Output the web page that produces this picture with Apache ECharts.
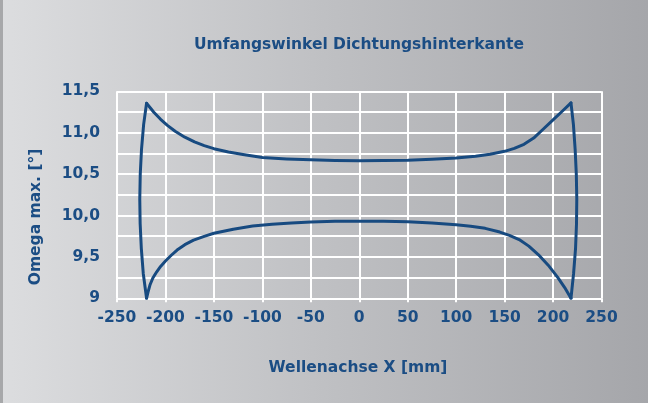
<!DOCTYPE html>
<html>
<head>
<meta charset="utf-8">
<script src="https://cdn.jsdelivr.net/npm/echarts@6/dist/echarts.min.js"></script>
<style>
html,body{margin:0;padding:0;}
#chart{width:648px;height:403px;}
</style>
</head>
<body>
<div id="chart"></div>
<script>
var titleText = 'Umfangswinkel Dichtungshinterkante';
var xName = 'Wellenachse X [mm]';
var yName = 'Omega max. [°]';

var upperX = [-219.5, -212, -205, -198, -190, -180, -170, -160, -150, -135, -120, -100, -75, -50, -25, 0, 25, 50, 75, 100, 120, 135, 150, 160, 170, 180, 190, 200, 210, 218.5];
var upperY = [11.355, 11.247, 11.162, 11.089, 11.018, 10.946, 10.889, 10.844, 10.807, 10.766, 10.737, 10.70, 10.683, 10.672, 10.664, 10.662, 10.663, 10.667, 10.678, 10.695, 10.715, 10.74, 10.775, 10.81, 10.86, 10.935, 11.045, 11.155, 11.265, 11.36];

var lowerX = [-219.5, -218, -216, -213, -209, -205, -200, -194, -188, -180, -171, -160, -150, -130, -110, -90, -70, -50, -25, 0, 25, 50, 75, 100, 115, 130, 145, 155, 165, 175, 185, 195, 205, 212, 218.5];
var lowerY = [9.0, 9.075, 9.16, 9.245, 9.32, 9.385, 9.45, 9.52, 9.583, 9.648, 9.702, 9.748, 9.785, 9.835, 9.872, 9.895, 9.91, 9.922, 9.93, 9.932, 9.93, 9.925, 9.91, 9.887, 9.87, 9.845, 9.80, 9.76, 9.71, 9.63, 9.525, 9.40, 9.25, 9.13, 9.0];

var leftSideX = [-219.5, -222.5, -224.7, -226, -226.5, -226.1, -224.9, -222.9, -219.5];
var leftSideY = [11.355, 11.1, 10.8, 10.5, 10.2, 9.9, 9.6, 9.3, 9.0];
var rightSideX = [218.5, 221, 222.8, 224, 224.5, 224.2, 223.2, 221.2, 218.5];
var rightSideY = [11.36, 11.1, 10.8, 10.5, 10.2, 9.9, 9.6, 9.3, 9.0];

function pairs(xs, ys){ return xs.map(function(x,i){ return [x, ys[i]]; }); }

var blue = '#174a80';
var txt = '#1b4d84';
var font = 'DejaVu Sans';

var chart = echarts.init(document.getElementById('chart'), null, {renderer:'canvas'});

function lineSeries(data){
  return {
    type:'line', data:data, smooth:false,
    symbol:'none', silent:true,
    lineStyle:{color:blue, width:3, cap:'round', join:'round'}
  };
}

chart.setOption({
  animation:false,
  backgroundColor:{type:'linear', x:0, y:0, x2:1, y2:0, colorStops:[
    {offset:0, color:'#dcdddf'},{offset:0.5, color:'#bfc0c3'},{offset:1, color:'#a5a6aa'}]},
  grid:{left:117, right:46.5, top:91.3, bottom:104.7, containLabel:false},
  xAxis:{
    type:'value', min:-250, max:250, interval:50,
    axisLine:{show:false},
    axisTick:{show:true, length:4, lineStyle:{color:'#ffffff', width:2}},
    axisLabel:{color:txt, fontFamily:font, fontWeight:'bold', fontSize:15.5, margin:12},
    splitLine:{show:true, lineStyle:{color:'#ffffff', width:2}}
  },
  yAxis:{
    type:'value', min:9, max:11.5, interval:0.25,
    axisLine:{show:false},
    axisTick:{show:true, interval:0, length:10, lineStyle:{color:'#ffffff', width:2}},
    axisLabel:{color:txt, fontFamily:font, fontWeight:'bold', fontSize:15.5, margin:17,
      formatter:function(v){
        var k = Math.round(v*4);
        if (k % 2 !== 0) return '';
        if (Math.abs(v-9) < 1e-6) return '9';
        return v.toFixed(1).replace('.', ',');
      }},
    splitLine:{show:true, lineStyle:{color:'#ffffff', width:2}}
  },
  graphic:[
    {type:'rect', left:0, top:0, shape:{width:3, height:403}, style:{fill:'#a7a8aa'}, z:-1},
    {type:'text', x:359, y:45, style:{text:titleText, fill:txt, font:'bold 15.5px "DejaVu Sans"', textAlign:'center', textVerticalAlign:'middle'}},
    {type:'text', x:358, y:368, style:{text:xName, fill:txt, font:'bold 15.5px "DejaVu Sans"', textAlign:'center', textVerticalAlign:'middle'}},
    {type:'text', x:36, y:217, rotation:Math.PI/2, style:{text:yName, fill:txt, font:'bold 15.5px "DejaVu Sans"', textAlign:'center', textVerticalAlign:'middle'}}
  ],
  series:[
    lineSeries(pairs(upperX, upperY)),
    lineSeries(pairs(lowerX, lowerY)),
    lineSeries(pairs(leftSideX, leftSideY)),
    lineSeries(pairs(rightSideX, rightSideY))
  ]
});
</script>
</body>
</html>
